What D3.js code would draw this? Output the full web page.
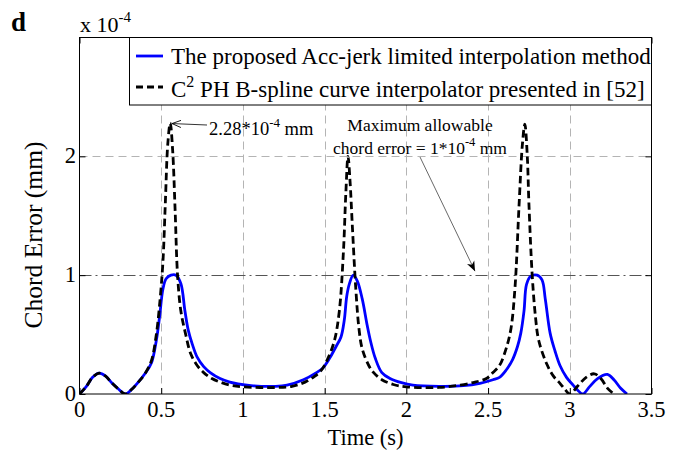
<!DOCTYPE html>
<html><head><meta charset="utf-8">
<script src="https://cdn.jsdelivr.net/npm/d3@7"></script>
<style>body{margin:0;background:#fff}svg{display:block}text{font-family:"Liberation Serif","Times New Roman",serif;fill:#000}</style>
</head><body>
<svg id="c" width="680" height="454"></svg>
<script>
// ---- data (chord error in units of 1e-4 mm) ----
const xTicks = [0, 0.5, 1, 1.5, 2, 2.5, 3, 3.5];
const xTickLabels = ["0", "0.5", "1", "1.5", "2", "2.5", "3", "3.5"];
const yTicks = [0, 1, 2];
const yTickLabels = ["0", "1", "2"];
const legendLabels = ["The proposed Acc-jerk limited interpolation method", "PH B-spline curve interpolator presented in [52]"];

const propTime = [0,0.04,0.08,0.12,0.16,0.20,0.24,0.28,0.32,0.36,0.40,0.44,0.47,0.49,0.51,0.53,0.56,0.59,0.62,0.645,0.665,0.69,0.72,0.76,0.80,0.86,0.92,0.97,1.05,1.2,1.27,1.37,1.45,1.49,1.53,1.57,1.60,1.62,1.635,1.65,1.675,1.70,1.73,1.76,1.78,1.81,1.85,1.9,1.97,2.04,2.2,2.35,2.45,2.53,2.57,2.61,2.65,2.68,2.70,2.72,2.735,2.76,2.80,2.83,2.85,2.88,2.91,2.94,2.98,3.02,3.05,3.08,3.12,3.17,3.23,3.27,3.31,3.35];
const propErr  = [0,0.06,0.14,0.175,0.15,0.09,0.04,0.0,0.04,0.10,0.17,0.26,0.45,0.65,0.88,0.97,1.0,1.0,0.93,0.70,0.54,0.42,0.31,0.23,0.18,0.13,0.10,0.085,0.07,0.065,0.075,0.12,0.18,0.22,0.30,0.40,0.48,0.62,0.82,0.92,1.0,0.95,0.80,0.58,0.45,0.30,0.18,0.13,0.095,0.075,0.065,0.07,0.09,0.12,0.14,0.20,0.29,0.40,0.51,0.70,0.92,0.99,1.0,0.96,0.80,0.51,0.36,0.24,0.14,0.075,0.03,0.0,0.06,0.13,0.165,0.12,0.05,0.0];

const refTime = [0,0.04,0.08,0.12,0.16,0.20,0.24,0.28,0.32,0.36,0.40,0.44,0.47,0.49,0.51,0.525,0.54,0.555,0.57,0.585,0.60,0.62,0.65,0.68,0.72,0.76,0.81,0.86,0.92,1.0,1.2,1.3,1.38,1.44,1.48,1.52,1.56,1.59,1.615,1.63,1.643,1.655,1.67,1.69,1.71,1.73,1.77,1.80,1.85,1.92,2.0,2.2,2.33,2.42,2.49,2.53,2.57,2.61,2.64,2.665,2.69,2.71,2.725,2.74,2.75,2.77,2.79,2.81,2.86,2.90,2.94,2.97,3.0,3.05,3.10,3.15,3.19,3.23,3.27];
const refErr  = [0,0.06,0.14,0.175,0.15,0.09,0.04,0.0,0.04,0.10,0.17,0.28,0.50,0.75,1.1,1.6,2.1,2.28,2.05,1.55,1.0,0.70,0.50,0.34,0.24,0.18,0.13,0.10,0.075,0.06,0.055,0.065,0.10,0.15,0.20,0.30,0.45,0.70,1.2,1.7,2.0,1.8,1.4,0.9,0.55,0.38,0.24,0.18,0.12,0.08,0.06,0.055,0.075,0.10,0.13,0.18,0.24,0.38,0.55,0.9,1.6,2.1,2.27,2.0,1.6,1.0,0.65,0.45,0.25,0.15,0.09,0.04,0.0,0.07,0.14,0.17,0.13,0.05,0.0];

// ---- layout ----
const L = 79.5, R = 651.5, T = 37.5, B = 394;
const svg = d3.select("#c");
const x = d3.scaleLinear().domain([0, 3.5]).range([L, R]);
const y = d3.scaleLinear().domain([0, 3]).range([B, T]);

const defs = svg.append("defs");
defs.append("clipPath").attr("id","clip")
  .append("rect").attr("x",L).attr("y",T).attr("width",R-L).attr("height",B-T);

// grid
const g = svg.append("g");
g.selectAll(".vg").data(xTicks.filter(d => d > 0 && d < 3.5)).join("line")
  .attr("x1", d => Math.round(x(d))+0.5).attr("x2", d => Math.round(x(d))+0.5)
  .attr("y1", T).attr("y2", B)
  .attr("stroke", "#b4b4b4").attr("stroke-width", 1).attr("stroke-dasharray", "8,5");
g.selectAll(".hg").data([2]).join("line")
  .attr("x1", L).attr("x2", R)
  .attr("y1", d => Math.round(y(d))+0.5).attr("y2", d => Math.round(y(d))+0.5)
  .attr("stroke", "#b4b4b4").attr("stroke-width", 1).attr("stroke-dasharray", "8,5");
// max allowable chord error line
g.append("line").attr("x1", L).attr("x2", R)
  .attr("y1", Math.round(y(1))+0.5).attr("y2", Math.round(y(1))+0.5)
  .attr("stroke", "#555").attr("stroke-width", 1).attr("stroke-dasharray", "12,4,2,4");

// axes ticks (inward, mirrored)
const xAxisB = d3.axisBottom(x).tickValues(xTicks).tickSize(-6).tickFormat("");
const xAxisT = d3.axisTop(x).tickValues(xTicks).tickSize(-6).tickFormat("");
const yAxisL = d3.axisLeft(y).tickValues(yTicks).tickSize(-6).tickFormat("");
const yAxisR = d3.axisRight(y).tickValues(yTicks).tickSize(-6).tickFormat("");
[[xAxisB,`translate(0,${B})`],[xAxisT,`translate(0,${T})`],[yAxisL,`translate(${L},0)`],[yAxisR,`translate(${R},0)`]].forEach(([ax,tr]) => {
  const a = svg.append("g").attr("transform", tr).call(ax);
  a.select(".domain").remove();
  a.selectAll("line").attr("stroke","#000");
});

// curves
const line = d3.line().x(d => x(d[0])).y(d => y(d[1])).curve(d3.curveCatmullRom.alpha(0.5));
const propData = propTime.map((t,i) => [t, propErr[i]]);
const refData = refTime.map((t,i) => [t, refErr[i]]);
const cg = svg.append("g").attr("clip-path","url(#clip)");
cg.append("path").datum(propData).attr("d", line).attr("fill","none")
  .attr("stroke","#0000ff").attr("stroke-width",2.8).attr("stroke-linejoin","round");
cg.append("path").datum(refData).attr("d", line).attr("fill","none")
  .attr("stroke","#000").attr("stroke-width",2.8).attr("stroke-dasharray","7.5,4");

// box
svg.append("rect").attr("x",L).attr("y",T).attr("width",R-L).attr("height",B-T)
  .attr("fill","none").attr("stroke","#000").attr("stroke-width",1);

// tick labels
svg.selectAll(".xl").data(xTicks).join("text")
  .attr("x", d => x(d)).attr("y", 417).attr("text-anchor","middle")
  .attr("font-size", 22.5).text((d,i) => xTickLabels[i]);
svg.selectAll(".yl").data(yTicks).join("text")
  .attr("x", 76).attr("y", d => y(d) + 7).attr("text-anchor","end")
  .attr("font-size", 22.5).text((d,i) => yTickLabels[i]);

// axis titles
svg.append("text").attr("x", (L+R)/2).attr("y", 445).attr("text-anchor","middle")
  .attr("font-size", 22.5).text("Time (s)");
svg.append("text").attr("transform", `translate(42,235) rotate(-90)`)
  .attr("text-anchor","middle").attr("font-size", 25.5).text("Chord Error (mm)");

// exponent label
const ex = svg.append("text").attr("x", 80).attr("y", 32).attr("font-size", 22);
ex.append("tspan").text("x 10");
ex.append("tspan").attr("dy", -10).attr("font-size", 15).text("-4");

// panel letter
svg.append("text").attr("x", 11).attr("y", 31).attr("font-size", 27).attr("font-weight","bold").text("d");

// legend
svg.append("rect").attr("x",129.5).attr("y",T).attr("width",R-129.5).attr("height",67.5)
  .attr("fill","#fff").attr("stroke","#000").attr("stroke-width",1);
svg.append("line").attr("x1",136).attr("x2",163).attr("y1",56).attr("y2",56)
  .attr("stroke","#0000ff").attr("stroke-width",2.8);
svg.append("line").attr("x1",136).attr("x2",163).attr("y1",87).attr("y2",87)
  .attr("stroke","#000").attr("stroke-width",2.8).attr("stroke-dasharray","7,4");
svg.append("text").attr("x",171).attr("y",64).attr("font-size",23).text(legendLabels[0]);
const l2 = svg.append("text").attr("x",171).attr("y",97).attr("font-size",23);
l2.append("tspan").text("C");
l2.append("tspan").attr("dy",-10).attr("font-size",16).text("2");
l2.append("tspan").attr("dy",10).text(" " + legendLabels[1]);

// annotations
defs.append("marker").attr("id","ah").attr("viewBox","0 0 10 10").attr("refX",10).attr("refY",5)
  .attr("markerWidth",9).attr("markerHeight",9).attr("orient","auto").attr("markerUnits","userSpaceOnUse")
  .append("path").attr("d","M0,1 L10,5 L0,9").attr("fill","none").attr("stroke","#000").attr("stroke-width",1);
defs.append("marker").attr("id","ah2").attr("viewBox","0 0 10 10").attr("refX",10).attr("refY",5)
  .attr("markerWidth",10).attr("markerHeight",10).attr("orient","auto").attr("markerUnits","userSpaceOnUse")
  .append("path").attr("d","M0,1 L10,5 L0,9 L3,5 Z").attr("fill","#000");

svg.append("line").attr("x1",207).attr("y1",125).attr("x2",x(0.56)+1).attr("y2",y(2.28)+0.5)
  .attr("stroke","#000").attr("stroke-width",0.8).attr("marker-end","url(#ah)");
const a1 = svg.append("text").attr("x",209).attr("y",135).attr("font-size",18.5);
a1.append("tspan").text("2.28*10");
a1.append("tspan").attr("dy",-8).attr("font-size",13).text("-4");
a1.append("tspan").attr("dy",8).text(" mm");

svg.append("text").attr("x",420).attr("y",131).attr("text-anchor","middle").attr("font-size",17.5).text("Maximum allowable");
const a2 = svg.append("text").attr("x",420).attr("y",154).attr("text-anchor","middle").attr("font-size",17.5);
a2.append("tspan").text("chord error = 1*10");
a2.append("tspan").attr("dy",-8).attr("font-size",12.5).text("-4");
a2.append("tspan").attr("dy",8).text(" mm");
svg.append("line").attr("x1",420).attr("y1",157).attr("x2",475).attr("y2",y(1)-4)
  .attr("stroke","#000").attr("stroke-width",0.6).attr("marker-end","url(#ah2)");
</script>
</body></html>
